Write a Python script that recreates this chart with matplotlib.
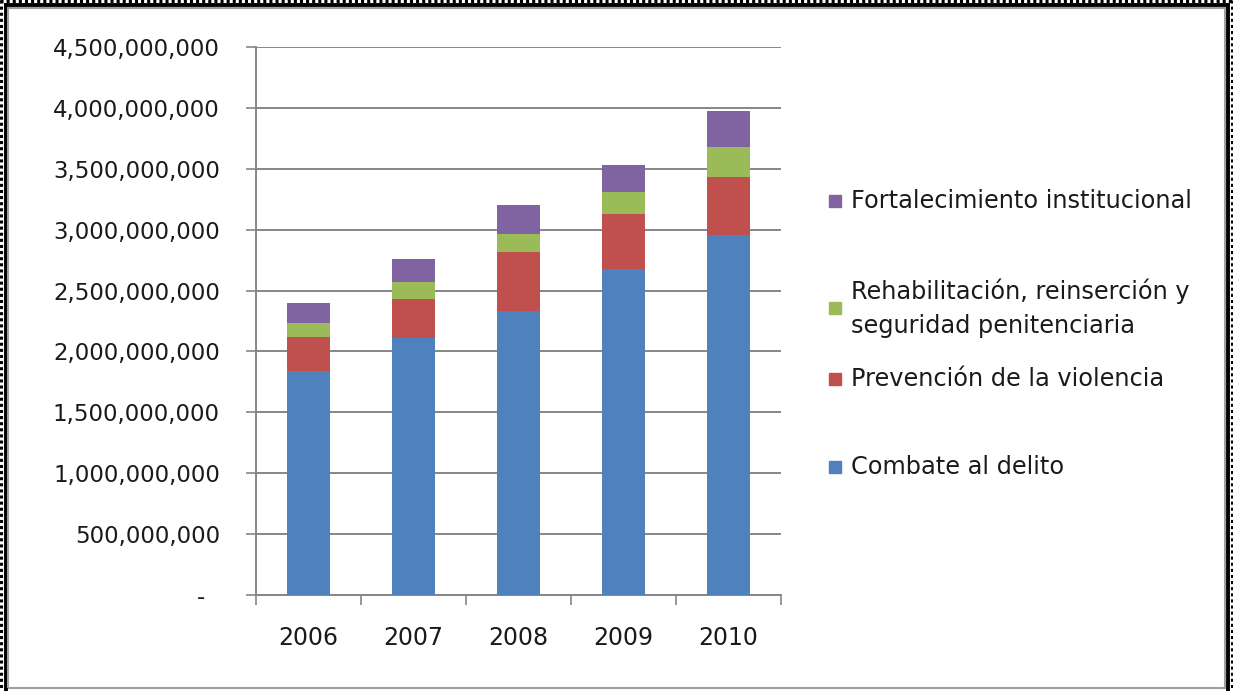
import numpy as np
import matplotlib.pyplot as plt
from matplotlib.lines import Line2D
from matplotlib.patches import Rectangle
from matplotlib.ticker import FuncFormatter

plt.rcParams['font.family'] = ['DejaVu Sans']

years = ["2006", "2007", "2008", "2009", "2010"]

# amounts per program, in pesos
combate = [1842e6, 2108e6, 2334e6, 2674e6, 2956e6]
prevencion = [279e6, 320e6, 482e6, 452e6, 478e6]
rehabilitacion = [115e6, 142e6, 148e6, 187e6, 247e6]
fortalecimiento = [164e6, 191e6, 238e6, 217e6, 293e6]

series_names = [
    "Combate al delito",
    "Prevención de la violencia",
    "Rehabilitación, reinserción y\nseguridad penitenciaria",
    "Fortalecimiento institucional",
]
series_colors = ["#4F81BD", "#C0504D", "#9BBB59", "#8064A2"]

W, H = 1233, 691
fig = plt.figure(figsize=(W / 100, H / 100), dpi=100)
ax = fig.add_axes([256 / W, 1 - 595 / H, 525 / W, 548 / H])

x = np.arange(len(years))
bottom = np.zeros(len(years))
for vals, color in zip([combate, prevencion, rehabilitacion, fortalecimiento], series_colors):
    ax.bar(x, vals, width=0.41, bottom=bottom, color=color, zorder=3)
    bottom += np.array(vals)

ax.set_xlim(-0.5, len(years) - 0.5)
ax.set_ylim(0, 4.5e9)
ax.set_yticks(np.arange(0, 4.5e9 + 1, 5e8))


def money(v, pos):
    # accounting style: zero shows as a dash
    return "-  " if v == 0 else f"{v:,.0f}"


ax.yaxis.set_major_formatter(FuncFormatter(money))
ax.grid(axis="y", color="#868686", linewidth=1.4, zorder=0)

# category labels at the centres, tick marks on the boundaries
ax.set_xticks(x)
ax.set_xticklabels(years)
ax.set_xticks(np.arange(-0.5, len(years)), minor=True)
ax.tick_params(axis="x", which="major", length=0, pad=22, labelsize=17, colors="#1a1a1a")
ax.tick_params(axis="x", which="minor", length=7, width=1.2, color="#868686", direction="out")
ax.tick_params(axis="y", length=7, width=1.2, color="#868686", pad=19, labelsize=16.5,
               labelcolor="#1a1a1a")

for side in ["top", "right"]:
    ax.spines[side].set_visible(False)
for side in ["left", "bottom"]:
    ax.spines[side].set_color("#868686")
    ax.spines[side].set_linewidth(1.4)

# legend, top entry is the top of the stack
legend_rows = [(3, 201), (2, 308), (1, 379), (0, 467)]
for idx, ypix in legend_rows:
    fig.patches.append(Rectangle((829 / W, 1 - (ypix + 6) / H), 12 / W, 12 / H,
                                 transform=fig.transFigure, color=series_colors[idx]))
    fig.text(851 / W, 1 - ypix / H, series_names[idx], fontsize=17.3,
             va="center", ha="left", linespacing=1.55, color="#1a1a1a")


# window frame around the chart, in pixel coordinates from the top-left
def frame_line(xs, ys, **kw):
    fig.add_artist(Line2D([v / W for v in xs], [1 - v / H for v in ys],
                          transform=fig.transFigure, solid_capstyle="butt", **kw))


dotted = dict(color="black", linewidth=2.2, linestyle=(0, (1, 1)))
frame_line([0, W], [1.2, 1.2], **dotted)
frame_line([1.2, 1.2], [0, H], **dotted)
frame_line([W - 1.2, W - 1.2], [0, H], **dotted)
solid = dict(color="black", linewidth=2.8)
frame_line([4, W - 4], [4.5, 4.5], **solid)
frame_line([5.5, 5.5], [3, H], **solid)
frame_line([W - 5, W - 5], [3, H], **solid)
gray = dict(color="#a0a0a0", linewidth=1.5)
frame_line([7.5, W - 7.5], [7.5, 7.5], **gray)
frame_line([8, 8], [7, H - 3], **gray)
frame_line([W - 8, W - 8], [7, H - 3], **gray)
frame_line([7.5, W - 7.5], [H - 3, H - 3], **gray)

fig.savefig("out.png", dpi=100)
